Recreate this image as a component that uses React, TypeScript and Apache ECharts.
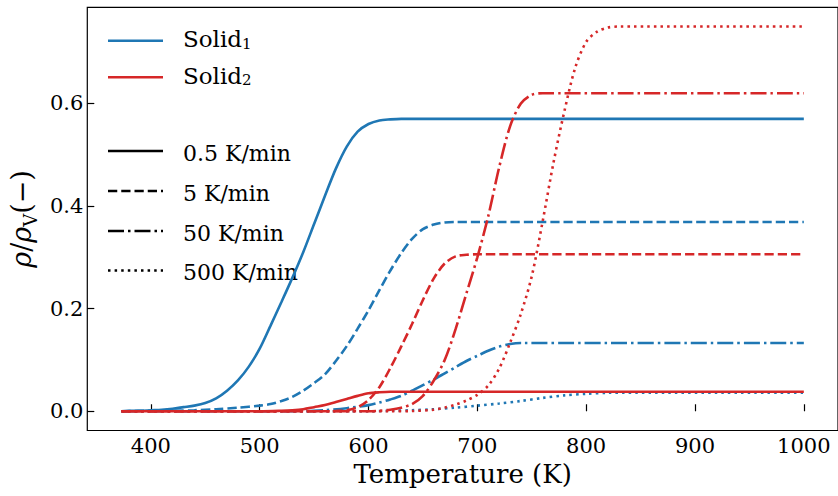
import { useEffect, useRef } from 'react';
import * as echarts from 'echarts';

// ---- axis ticks / labels ----
const temperatureTicks = [400, 500, 600, 700, 800, 900, 1000];
const ratioTicks = [0, 0.2, 0.4, 0.6];
const solidNames = ['Solid', 'Solid'];
const solidSubscripts = ['1', '2'];
const rateLabels = ['0.5 K/min', '5 K/min', '50 K/min', '500 K/min'];

// ---- Solid 1 (blue) curves: [temperature K, rho/rho_V] ----
const solid1Rate05: [number, number][] = [
  [373, 0], [380, 0.001], [390, 0.001], [400, 0.002], [410, 0.003], [420, 0.005], [430, 0.008],
  [440, 0.011], [450, 0.016], [460, 0.025], [470, 0.04], [480, 0.06], [490, 0.087], [500, 0.122],
  [510, 0.167], [520, 0.213], [530, 0.26], [540, 0.31], [550, 0.365], [560, 0.42], [570, 0.473],
  [580, 0.516], [590, 0.545], [600, 0.56], [610, 0.567], [620, 0.569], [630, 0.57], [1000, 0.57],
];
const solid1Rate5: [number, number][] = [
  [373, 0], [400, 0.001], [420, 0.001], [440, 0.002], [460, 0.004], [480, 0.007], [500, 0.011],
  [510, 0.014], [520, 0.02], [530, 0.028], [540, 0.04], [550, 0.055], [560, 0.072], [570, 0.098],
  [580, 0.127], [590, 0.161], [600, 0.197], [610, 0.236], [620, 0.274], [630, 0.308], [640, 0.336],
  [650, 0.355], [660, 0.364], [670, 0.368], [680, 0.369], [1000, 0.369],
];
const solid1Rate50: [number, number][] = [
  [373, 0], [540, 0], [560, 0.002], [580, 0.006], [600, 0.012], [610, 0.017], [620, 0.023],
  [630, 0.03], [640, 0.04], [650, 0.051], [660, 0.062], [670, 0.074], [680, 0.086], [690, 0.098],
  [700, 0.108], [710, 0.118], [720, 0.126], [730, 0.131], [740, 0.133], [1000, 0.133],
];
const solid1Rate500: [number, number][] = [
  [373, 0], [600, 0], [620, 0.001], [640, 0.002], [660, 0.004], [680, 0.007], [700, 0.011],
  [720, 0.015], [740, 0.02], [760, 0.026], [780, 0.031], [800, 0.034], [820, 0.036], [1000, 0.036],
];

// ---- Solid 2 (red) curves ----
const solid2Rate05: [number, number][] = [
  [373, 0], [500, 0], [520, 0.001], [530, 0.002], [540, 0.004], [550, 0.008], [560, 0.012],
  [570, 0.018], [580, 0.024], [590, 0.03], [600, 0.035], [610, 0.037], [620, 0.038], [1000, 0.038],
];
const solid2Rate5: [number, number][] = [
  [373, 0], [560, 0], [570, 0.0005], [580, 0.002], [590, 0.008], [600, 0.022], [610, 0.047],
  [620, 0.084], [630, 0.126], [640, 0.17], [650, 0.217], [660, 0.259], [670, 0.288], [680, 0.302],
  [690, 0.305], [700, 0.306], [1000, 0.306],
];
const solid2Rate50: [number, number][] = [
  [373, 0], [600, 0], [610, 0.001], [620, 0.003], [630, 0.007], [640, 0.014], [650, 0.03],
  [660, 0.06], [670, 0.1], [680, 0.16], [690, 0.23], [700, 0.3], [710, 0.38], [720, 0.475],
  [730, 0.555], [740, 0.6], [750, 0.617], [760, 0.62], [1000, 0.62],
];
const solid2Rate500: [number, number][] = [
  [373, 0], [620, 0], [640, 0.0005], [660, 0.003], [670, 0.007], [680, 0.013], [690, 0.021],
  [700, 0.032], [710, 0.05], [720, 0.083], [730, 0.133], [740, 0.19], [750, 0.263], [760, 0.37],
  [770, 0.485], [780, 0.585], [790, 0.67], [800, 0.72], [810, 0.74], [820, 0.748], [830, 0.75],
  [1000, 0.75],
];

const BLUE = '#1f77b4';
const RED = '#d62728';
const FONT = 'DejaVu Serif';
const LW = 2.6;
const DASHES: any[] = ['solid', [9.25, 4], [16, 4, 2.5, 4], [2.5, 4.1]];

const solid1Curves = [solid1Rate05, solid1Rate5, solid1Rate50, solid1Rate500];
const solid2Curves = [solid2Rate05, solid2Rate5, solid2Rate50, solid2Rate500];

export default function App() {
  const ref = useRef<HTMLDivElement>(null);

  useEffect(() => {
    document.body.style.margin = '0';
    document.body.style.overflow = 'hidden';
    if (!ref.current) return;
    const chart = echarts.init(ref.current, undefined, { renderer: 'svg' });

    const series: any[] = [];
    solid1Curves.forEach((d, i) => {
      series.push({
        type: 'line', name: 'Solid1 ' + rateLabels[i], data: d, showSymbol: false, symbol: 'none',
        smooth: 0.3, lineStyle: { color: BLUE, width: LW, type: DASHES[i], cap: 'butt' },
        itemStyle: { color: BLUE }, z: 2,
      });
    });
    solid2Curves.forEach((d, i) => {
      series.push({
        type: 'line', name: 'Solid2 ' + rateLabels[i], data: d, showSymbol: false, symbol: 'none',
        smooth: 0.3, lineStyle: { color: RED, width: LW, type: DASHES[i], cap: 'butt' },
        itemStyle: { color: RED }, z: 3,
      });
    });

    const lx1 = 108, lx2 = 163, tx = 183;
    const solidRows = [40.7, 77.3];
    const rateRows = [151, 191, 231, 270.5];
    const graphics: any[] = [];
    solidRows.forEach((y, i) => {
      graphics.push({
        type: 'line', shape: { x1: lx1, y1: y, x2: lx2, y2: y },
        style: { stroke: i === 0 ? BLUE : RED, lineWidth: LW },
      });
      graphics.push({
        type: 'text', x: tx, y: y - 1.5,
        style: {
          text: `{m|${solidNames[i]}}{s|${solidSubscripts[i]}}`,
          fill: '#000', verticalAlign: 'middle', align: 'left',
          fontFamily: FONT, fontSize: 23,
          rich: {
            m: { fontSize: 23, fontFamily: FONT, fill: '#000', lineHeight: 24 },
            s: { fontSize: 15, fontFamily: FONT, fill: '#000', verticalAlign: 'bottom', lineHeight: 15 },
          },
        },
      });
    });
    rateRows.forEach((y, i) => {
      const style: any = { stroke: '#000', lineWidth: LW, lineCap: 'butt' };
      if (i > 0) style.lineDash = DASHES[i];
      graphics.push({ type: 'line', shape: { x1: lx1, y1: y, x2: lx2, y2: y }, style });
      graphics.push({
        type: 'text', x: tx, y: y + 2.2,
        style: {
          text: rateLabels[i], fontSize: 22, fontFamily: FONT, fill: '#000',
          verticalAlign: 'middle', align: 'left',
        },
      });
    });

    chart.setOption({
      animation: false,
      backgroundColor: '#fff',
      textStyle: { fontFamily: FONT },
      grid: {
        left: 86, top: 7.3, right: -6.7, bottom: 65.5,
        show: true, borderColor: '#000', borderWidth: 1.2, backgroundColor: 'transparent',
      },
      xAxis: {
        type: 'value', min: 341.6, max: 1031.4,
        axisLine: { show: false },
        splitLine: { show: false },
        axisTick: {
          show: true, inside: true, length: 7, customValues: temperatureTicks,
          lineStyle: { color: '#000', width: 1.2 },
        },
        axisLabel: {
          customValues: temperatureTicks, fontSize: 21, fontFamily: FONT, color: '#000', margin: 5,
          formatter: (v: number) => String(v),
        },
        name: 'Temperature (K)', nameLocation: 'middle', nameGap: 30,
        nameTextStyle: { fontSize: 26, fontFamily: FONT, color: '#000' },
      },
      yAxis: {
        type: 'value', min: -0.0375, max: 0.7875,
        axisLine: { show: false },
        splitLine: { show: false },
        axisTick: {
          show: true, inside: true, length: 7, customValues: ratioTicks,
          lineStyle: { color: '#000', width: 1.2 },
        },
        axisLabel: {
          customValues: ratioTicks, fontSize: 21, fontFamily: FONT, color: '#000', margin: 4,
          formatter: (v: number) => v.toFixed(1),
        },
        name: '{i|ρ}{n|/}{i|ρ}{s|V}{n|(−)}',
        nameLocation: 'middle', nameRotate: 90, nameGap: 46,
        nameTextStyle: {
          fontSize: 27, fontFamily: FONT, color: '#000',
          rich: {
            i: { fontSize: 27, fontFamily: FONT, fontStyle: 'italic', color: '#000', padding: [0, 0, 4, 0] },
            n: { fontSize: 27, fontFamily: FONT, color: '#000', padding: [0, 0, 4, 0] },
            s: { fontSize: 18, fontFamily: FONT, color: '#000', verticalAlign: 'bottom', lineHeight: 18 },
          },
        },
      },
      graphic: graphics,
      series,
    });

    return () => chart.dispose();
  }, []);

  return <div ref={ref} style={{ width: 838, height: 496 }} />;
}
